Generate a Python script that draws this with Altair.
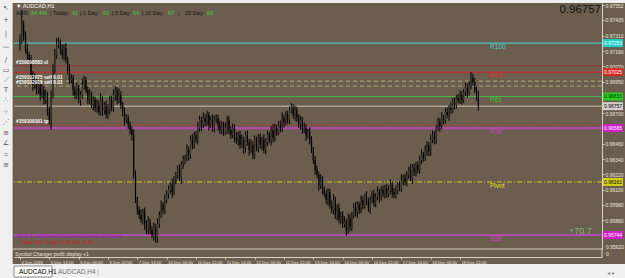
import altair as alt
import pandas as pd

# ---------------- data (prices in points, 1 point = 0.00001) ----------------
first_open = 97230
closes = [97277,97395,97316,97198,97159,97120,97002,96923,96962,96884,
          96923,96845,96884,96805,96845,96727,96648,96845,97041,97159,
          97238,97261,97198,97159,97214,97120,97041,96962,96978,96884,
          96845,96900,96805,96845,96923,96962,96884,96805,96845,96766,
          96805,96742,96766,96711,96805,96727,96766,96687,96727,96805,
          96742,96845,96884,96805,96845,96766,96711,96648,96664,96609,
          96570,96530,96216,96019,95940,95901,95862,95925,95830,95783,
          95846,95783,95744,95807,95720,95830,95901,95980,95940,96019,
          96066,96098,96137,96082,96177,96216,96255,96192,96294,96334,
          96349,96412,96373,96491,96452,96530,96491,96585,96648,96609,
          96664,96633,96687,96609,96648,96585,96648,96664,96609,96570,
          96609,96554,96585,96648,96570,96530,96585,96507,96491,96530,
          96452,96491,96428,96530,96475,96412,96452,96373,96491,96428,
          96507,96452,96491,96412,96475,96530,96491,96570,96507,96585,
          96554,96609,96585,96664,96633,96687,96648,96727,96742,96687,
          96727,96664,96609,96648,96570,96585,96530,96554,96491,96412,
          96334,96255,96216,96137,96177,96098,96066,96019,96082,95980,
          95940,96019,95901,95956,95862,95901,95830,95846,95783,95878,
          95807,95901,95956,95925,95980,95940,96019,95980,96043,96004,
          95956,96019,96066,95996,96043,96082,96043,96098,96066,96114,
          96066,96098,96137,96082,96059,96098,96137,96114,96177,96192,
          96161,96216,96255,96192,96271,96239,96294,96255,96334,96373,
          96349,96412,96452,96397,96491,96530,96491,96585,96633,96601,
          96664,96648,96711,96687,96742,96727,96790,96766,96821,96805,
          96845,96805,96868,96900,96868,96923,96978,96947,96884,96845,
          96757]
wick_up = [45,118,35,30,50,25,40,30,55,25, 35,25,45,30,40,25,30,35,45,50,
           55,35,25,45,30,40,25,45,30,25, 35,45,25,30,50,35,25,30,45,25,
           30,25,45,35,55,30,25,35,45,30, 35,45,30,25,50,30,25,35,30,25,
           30,25,45,35,25,30,45,25,35,30, 45,25,30,35,25,45,30,35,25,45,
           30,35,25,50,30,25,35,45,30,35, 25,45,30,35,45,25,30,50,35,25,
           45,30,35,25,30,45,35,30,25,35, 30,25,45,35,30,25,35,30,45,25,
           35,45,25,30,35,25,45,30,35,25, 30,35,25,45,30,35,25,30,45,35,
           25,30,35,45,25,30,35,25,40,30, 35,25,30,35,25,45,30,25,35,30,
           25,30,35,25,45,30,25,35,30,25, 35,45,25,30,35,25,30,45,25,35,
           30,25,35,45,30,25,35,30,25,45, 35,30,25,35,30,45,25,30,35,25,
           30,35,45,25,30,35,25,30,45,25, 35,30,25,45,30,35,25,30,35,45,
           25,35,30,25,45,35,30,25,35,30, 45,25,30,35,25,45,30,35,25,30,
           35,30,25,45,35,30,47,35,30,25, 30]
wick_dn = [35,30,45,25,35,30,25,45,30,35, 30,45,25,35,30,45,35,78,30,25,
           30,25,35,30,45,25,35,30,25,45, 35,30,25,45,30,35,25,30,35,25,
           45,30,35,25,30,45,35,25,30,35, 25,30,45,35,25,30,35,45,25,30,
           35,45,30,25,35,30,25,35,45,30, 35,30,25,45,39,35,30,25,35,30,
           25,35,30,45,25,35,30,25,45,30, 35,25,45,30,35,30,25,35,30,45,
           25,35,30,45,25,30,35,25,45,30, 35,30,25,45,35,30,25,35,30,45,
           30,25,45,35,30,45,25,35,30,25, 35,30,45,25,35,30,25,45,35,30,
           30,25,35,30,45,25,30,35,25,30, 45,30,25,35,30,25,45,30,35,25,
           30,35,25,45,30,35,25,30,45,30, 25,35,30,45,25,35,30,25,45,30,
           35,30,25,35,45,30,25,35,30,25, 30,45,25,30,35,25,45,30,25,35,
           30,25,35,45,25,30,35,25,30,45, 25,35,30,25,45,30,35,25,30,35,
           30,25,45,35,30,25,35,30,25,45, 25,35,30,25,45,30,25,35,30,25,
           30,35,25,30,45,25,35,30,25,45, 35]

time_labels = ["4 Dec 2018", "5 Dec 14:00", "6 Dec 06:00", "6 Dec 22:00", "7 Dec 14:00",
               "10 Dec 06:00", "10 Dec 22:00", "11 Dec 14:00", "12 Dec 06:00", "12 Dec 22:00",
               "13 Dec 14:00", "14 Dec 06:00", "14 Dec 22:00", "17 Dec 14:00", "18 Dec 06:00",
               "18 Dec 22:00"]
bars_per_label = 16

price_ticks = [0.97552, 0.97435, 0.97310, 0.97190, 0.97070, 0.96950, 0.96700,
               0.96460, 0.96340, 0.96220, 0.96100, 0.95980, 0.95860]

level_names = ["R100", "R78", "R61", "Pivot", "R38", "S38"]
level_prices = [0.97253, 0.97025, 0.96833, 0.96161, 0.96585, 0.95744]
level_colors = ["#4cc4bc", "#cc2a2a", "#44b844", "#d8d020", "#b04aa8", "#b04ab0"]
level_text_colors = ["#48d0d0", "#e03030", "#40c040", "#e8e020", "#d040c0", "#d040c0"]
level_box_fill = ["#00ffff", "#ff1010", "#10ff10", "#ffff00", "#ff00ff", "#ff00ff"]
level_box_text = ["#ffffff", "#ffffff", "#003300", "#000000", "#ffffff", "#ffffff"]

order_labels = ["#159098583 sl", "#159102975 sell 0.01", "#159102919 sell 0.01", "#159109161 tp"]
order_prices = [0.97073, 0.96954, 0.96915, 0.96609]
current_price = 0.96757

adr_parts = ["ADR:", "64.4%", "| Today:", "41", "| 1 Day:", "63", "| 5 Day:", "54",
             "| 10 Day:", "67", "|", "20 Day:", "66"]
adr_x = [16, 31, 50, 72, 80, 103, 112, 133, 142, 168, 178, 185, 207]
adr_green = [False, True, False, True, False, True, False, True, False, True, False, False, True]

# ---------------- build tables ----------------
opens = [first_open] + closes[:-1]
rows = []
for i, (o, c, u, d) in enumerate(zip(opens, closes, wick_up, wick_dn)):
    rows.append({"i": i, "open": o / 1e5, "close": c / 1e5,
                 "high": (max(o, c) + u) / 1e5, "low": (min(o, c) - d) / 1e5,
                 "bull": c >= o})
candles = pd.DataFrame(rows)

levels = pd.DataFrame({"name": level_names, "price": level_prices, "color": level_colors,
                       "tcolor": level_text_colors, "fill": level_box_fill, "btext": level_box_text})
levels["label"] = levels["price"].map(lambda v: f"{v:.5f}")

W, H = 588, 246
XDOM = [-0.54, 314.7]
YDOM = [0.95634, 0.97568]
FONT = "Liberation Sans"
BROWN = "#6b5e4e"
LIGHT = "#f0f0f0"
one = pd.DataFrame({"a": [0]})

xs = alt.Scale(domain=XDOM, nice=False, zero=False)
ys = alt.Scale(domain=YDOM, nice=False, zero=False)
label_expr = "[" + ",".join(f"'{t}'" for t in time_labels) + f"][round(datum.value/{bars_per_label})]"
tick_vals = [k * bars_per_label for k in range(len(time_labels))]
xax = alt.Axis(values=tick_vals, labelExpr=label_expr, orient="bottom", offset=8,
               labelAlign="left", labelFontSize=4.2, labelFont=FONT, labelColor="#ece6da",
               labelPadding=1, labelOffset=1, tickSize=2, tickColor="#d8d0c0", domainColor="#d8d0c0",
               grid=False, title=None, labelOverlap=False, labelFlush=False)
yax = alt.Axis(values=price_ticks, format=".5f", orient="right", labelFontSize=5,
               labelFont=FONT, labelColor="#ece6da", tickSize=2, tickColor="#d8d0c0",
               domainColor="#d8d0c0", labelPadding=1, grid=False, title=None,
               labelOverlap=False, labelFlush=False)


def Y(field):
    return alt.Y(field, scale=ys, axis=yax)


def txt(t, x, y, color, size, align="left", **kw):
    return alt.Chart(one).mark_text(text=t, align=align, baseline="middle", fontSize=size,
                                    font=FONT, color=color, **kw).encode(
        x=alt.value(x), y=alt.value(y))


def rect(x, x2, y, y2, color, **kw):
    return alt.Chart(one).mark_rect(color=color, **kw).encode(
        x=alt.value(x), x2=alt.value(x2), y=alt.value(y), y2=alt.value(y2))


# window chrome (light grey frame around the brown chart window)
chrome = [
    rect(-14, -1, -3, 275, LIGHT),
    rect(-14, 611, -3, 0, LIGHT),
    rect(-14, 611, 261, 275, LIGHT),
    rect(-2, -1, 0, 261, "#b8b8b8"),
    rect(0, 38, 263, 274, "#ffffff", stroke="#8a8a8a", strokeWidth=1),
    txt("AUDCAD,H1", 5, 269, "#000000", 6.5),
    txt("AUDCAD,H4", 44, 269, "#707070", 6.5),
    txt("|", 83, 269, "#a0a0a0", 6.5),
    txt("◂ ▸", 593, 270, "#909090", 6),
]
glyphs = ["↖", "+", "|", "—", "/", "▭", "⟋", "T", "∴", "⁘", "⋰", "≡", "∠", "⌗", "≡"]
glyph_y = [5, 17, 31, 44, 57, 67, 77, 87, 97, 109, 119, 130, 140, 152, 162]
for g, gy in zip(glyphs, glyph_y):
    chrome.append(alt.Chart(one).mark_text(text=g, fontSize=7, color="#555555", baseline="middle",
                                           font="DejaVu Sans").encode(x=alt.value(-8), y=alt.value(gy)))

# candles
wick = alt.Chart(candles).mark_rule(color="#000000", strokeWidth=1).encode(
    x=alt.X("i:Q", scale=xs, axis=xax), y=Y("low:Q"), y2="high:Q")
body = alt.Chart(candles).mark_bar(width=1.2).encode(
    x=alt.X("i:Q", scale=xs, axis=xax), y=Y("open:Q"), y2="close:Q",
    color=alt.condition("datum.bull", alt.value("#3a332b"), alt.value("#000000")))


# horizontal lines
def hline(price, color, width=1, dash=None):
    kw = {"color": color, "strokeWidth": width}
    if dash:
        kw["strokeDash"] = dash
    return alt.Chart(pd.DataFrame({"p": [price]})).mark_rule(**kw).encode(y=Y("p:Q"))


lines = [
    hline(level_prices[0], level_colors[0], 1.2),
    hline(order_prices[0], "#9c3030", 1),
    hline(level_prices[1], level_colors[1], 1.2),
    hline(order_prices[1], "#a8b070", 1, [4, 3]),
    hline(order_prices[2], "#a8b070", 1, [4, 3]),
    hline(level_prices[2], level_colors[2], 1.2),
    hline(current_price, "#c8c0b0", 1),
    hline(order_prices[3], "#c03030", 1, [4, 3]),
    hline(level_prices[4], level_colors[4], 2.2),
    hline(level_prices[3], level_colors[3], 1, [5, 2, 1, 2]),
    hline(level_prices[5], level_colors[5], 2.2),
]

level_txt = alt.Chart(levels).mark_text(align="left", baseline="middle", dy=4, fontSize=6.5,
                                        font=FONT).encode(
    x=alt.value(476), y=Y("price:Q"), text="name:N", color=alt.Color("tcolor:N", scale=None))

box = alt.Chart(levels).mark_tick(orient="horizontal", size=20, thickness=8).encode(
    x=alt.value(599), y=Y("price:Q"), color=alt.Color("fill:N", scale=None))
box_txt = alt.Chart(levels).mark_text(align="left", baseline="middle", fontSize=5, font=FONT).encode(
    x=alt.value(590), y=Y("price:Q"), text="label:N", color=alt.Color("btext:N", scale=None))
cur = pd.DataFrame({"p": [current_price], "t": [f"{current_price:.5f}"]})
cur_box = alt.Chart(cur).mark_tick(orient="horizontal", size=20, thickness=8, color="#ffffff").encode(
    x=alt.value(599), y=Y("p:Q"))
cur_txt = alt.Chart(cur).mark_text(align="left", baseline="middle", fontSize=5, font=FONT,
                                   color="#000000").encode(
    x=alt.value(590), y=Y("p:Q"), text="t:N")

orders = alt.Chart(pd.DataFrame({"t": order_labels, "p": order_prices})).mark_text(
    align="left", baseline="bottom", dy=-1, fontSize=4.8, fontWeight="bold", font=FONT,
    color="#ffffff").encode(x=alt.value(2), y=Y("p:Q"), text="t:N")

# sub window
sub = [
    alt.Chart(one).mark_rule(color="#d8d0c0", strokeWidth=1).encode(
        x=alt.value(-1), x2=alt.value(588), y=alt.value(246)),
    alt.Chart(one).mark_rule(color="#d8d0c0", strokeWidth=1).encode(
        x=alt.value(588), y=alt.value(246), y2=alt.value(254)),
    txt("Symbol Changer profit display +1", 1, 251, "#ece6da", 5),
    txt("0.95620", 592, 244, "#ece6da", 5),
    txt("0", 592, 251, "#ece6da", 5),
    txt("Profit 1: additional levels not currently activated", 3, 233, "#a020c0", 5),
    txt("Trade Info: 2 open 0.02 lots  -0.41", 6, 239, "#d02020", 5),
]

# header
header = [txt("▼ AUDCAD,H1", 2, 2.5, "#ffffff", 5.5)]
for part, ax, green in zip(adr_parts, adr_x, adr_green):
    header.append(txt(part, ax - 14, 10, "#44cc44" if green else "#151515", 5.6))
header.append(txt(f"{current_price:.5f}", 587, 6.5, "#111111", 11.5, align="right"))
header.append(txt("+70.7", 555, 228, "#7db872", 9))

chart = alt.layer(
    *chrome, *lines, wick, body, level_txt, orders, box, box_txt, cur_box, cur_txt,
    *sub, *header
).properties(
    width=W, height=H, autosize="none",
    padding={"left": 14, "top": 3, "right": 23, "bottom": 29},
    background=BROWN
).configure_view(stroke=None)

chart.save("out.html", embed_options={"renderer": "svg", "actions": False})
